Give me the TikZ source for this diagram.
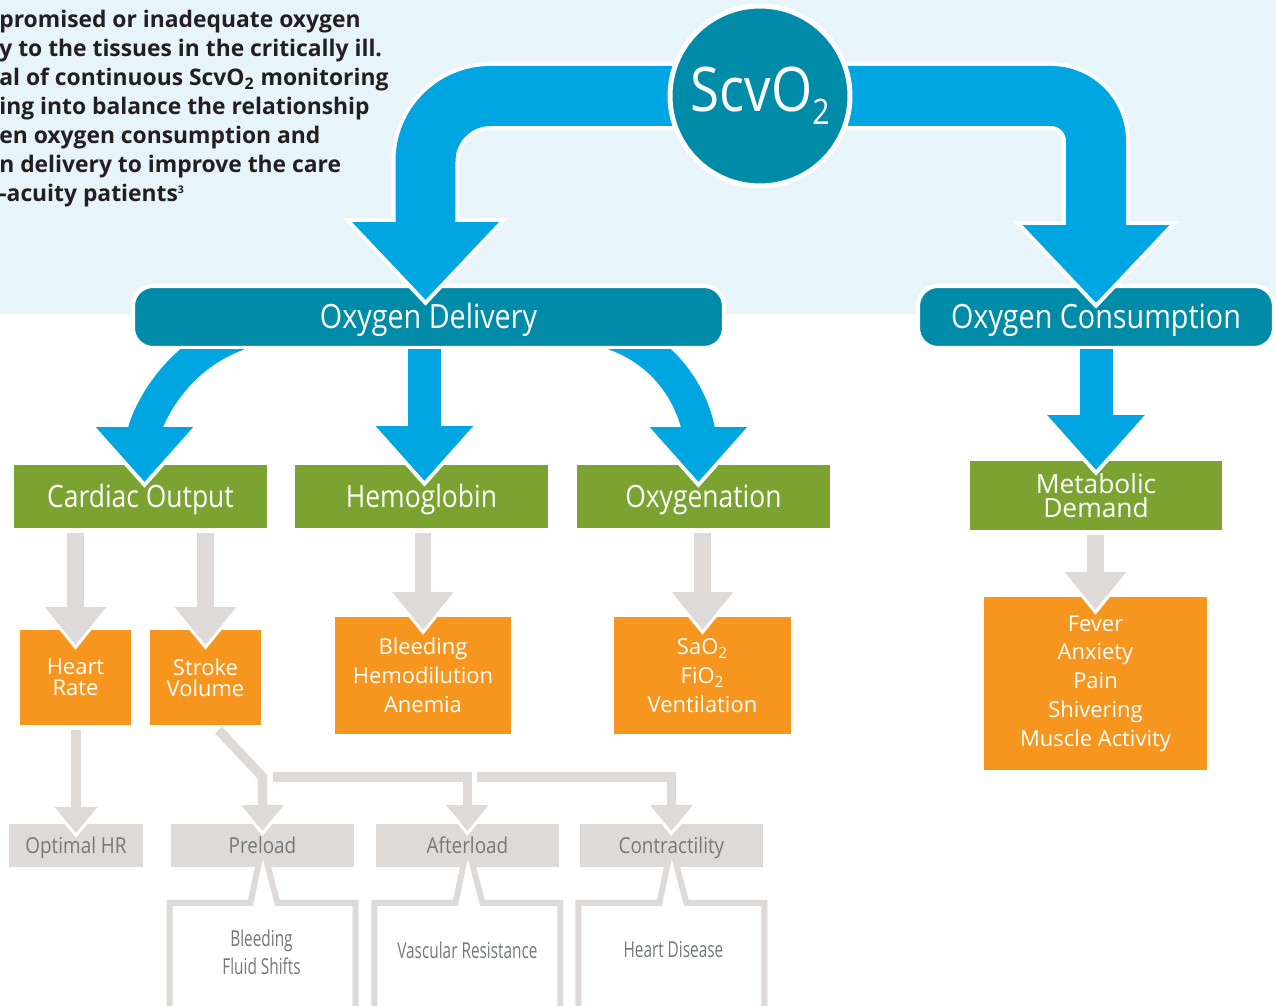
\documentclass[tikz,border=0pt]{standalone}
\usepackage{fontspec}
\setmainfont{Open Sans}
\newfontfamily\headfont[FakeStretch=0.86]{Open Sans}
\newfontfamily\narrowfont[FakeStretch=0.7]{Open Sans}
\usetikzlibrary{arrows.meta}
\usetikzlibrary{calc}
\usetikzlibrary{positioning}

\definecolor{skyBg}{HTML}{E7F4F9}
\definecolor{flowBlue}{HTML}{00A6E1}
\definecolor{tealBox}{HTML}{008CA8}
\definecolor{leafGreen}{HTML}{7BA331}
\definecolor{orangeBox}{HTML}{F7961F}
\definecolor{paleGray}{HTML}{DEDAD7}
\definecolor{labelGray}{HTML}{75787B}
\definecolor{inkText}{HTML}{231F20}

\tikzset{
    objTeal/.style={rectangle, rounded corners=0.4cm, fill=tealBox, draw=white, line width=0.08cm, outer sep=0pt, text=white, font=\headfont\fontsize{19}{20}\selectfont, text height=13.6pt, text depth=0pt, minimum height=1.24cm},
    objGreen/.style={rectangle, fill=leafGreen, text=white, outer sep=0pt, inner sep=0pt, font=\headfont\fontsize{17.5}{20}\selectfont, minimum width=5.06cm, minimum height=1.26cm},
    objGreenLine/.style={objGreen, text height=12.5pt, text depth=0pt},
    objOrange/.style={rectangle, fill=orangeBox, text=white, outer sep=0pt, inner sep=0pt, align=center, font=\fontsize{12.5}{16.4}\selectfont},
    objGray/.style={rectangle, fill=paleGray, text=labelGray, outer sep=0pt, inner sep=0pt, font=\headfont\fontsize{12.5}{14}\selectfont, text height=9pt, text depth=0pt, minimum width=3.66cm, minimum height=0.86cm},
    objNote/.style={text=labelGray, align=center, font=\narrowfont\fontsize{12.5}{16}\selectfont},
    noteLine/.style={draw=paleGray, line width=0.12cm},
    bigArrow/.style={draw=flowBlue, line width=1.2cm, shorten >=0.12cm, -{Triangle[width=2.84cm,length=1.56cm]},
        preaction={draw=white, line width=1.36cm, shorten >=0cm, -{Triangle[width=3.2cm,length=1.76cm]}}},
    subArrow/.style={draw=flowBlue, line width=0.66cm, shorten >=0.12cm, -{Triangle[width=1.88cm,length=1.1cm]},
        preaction={draw=white, line width=0.82cm, shorten >=0cm, -{Triangle[width=2.22cm,length=1.3cm]}}},
    grayArrow/.style={draw=paleGray, line width=0.33cm, shorten >=0.1cm, -{Triangle[width=1.18cm,length=0.76cm]},
        preaction={draw=white, line width=0.33cm, shorten >=0cm, -{Triangle[width=1.42cm,length=0.92cm]}}},
    thinArrow/.style={draw=paleGray, line width=0.19cm, line join=miter, shorten >=0.1cm, -{Triangle[width=0.82cm,length=0.52cm]},
        preaction={draw=white, line width=0.19cm, shorten >=0cm, -{Triangle[width=1.08cm,length=0.68cm]}}}
}

\begin{document}
\begin{tikzpicture}[x=0.02cm, y=-0.02cm]
  \useasboundingbox (0,0) rectangle (1276,1006);
  \fill[skyBg] (0,0) rectangle (1276,314);

  \node (intro) [anchor=north west, align=left, inner sep=0pt, text=inkText, font=\bfseries\fontsize{13}{16.5}\selectfont] at (-1,10) {promised or inadequate oxygen\\y to the tissues in the critically ill.\\al of continuous ScvO\textsubscript{2} monitoring\\ing into balance the relationship\\en oxygen consumption and\\n delivery to improve the care\\-acuity patients\textsuperscript{\fontsize{6}{6}\selectfont 3}};

  \coordinate (scvMid) at (760,96);

  \node (deliv) [objTeal, minimum width=11.82cm] at (428.5,317) {Oxygen Delivery};
  \node (consum) [objTeal, minimum width=7.12cm] at (1096,317) {Oxygen Consumption};

  \node (cardiac) [objGreenLine] at (140.5,496.5) {Cardiac Output};
  \node (hemo) [objGreenLine, right=0.56cm of cardiac] {Hemoglobin};
  \node (oxy) [objGreenLine, right=0.58cm of hemo] {Oxygenation};
  \node (metab) [objGreen, minimum width=5.04cm, minimum height=1.38cm, align=center, font=\fontsize{15}{13.5}\selectfont] at (1096,495.5) {Metabolic\\Demand};

  \node (heart) [objOrange, minimum width=2.22cm, minimum height=1.9cm, font=\fontsize{12.5}{12}\selectfont] at (75.5,677.5) {Heart\\Rate};
  \node (stroke) [objOrange, minimum width=2.22cm, minimum height=1.9cm, font=\fontsize{12.5}{12}\selectfont, right=0.38cm of heart] {Stroke\\Volume};
  \node (bleed) [objOrange, minimum width=3.52cm, minimum height=2.34cm] at (423,675.5) {Bleeding\\Hemodilution\\Anemia};
  \node (sao) [objOrange, minimum width=3.54cm, minimum height=2.34cm] at (702.5,675.5) {SaO\textsubscript{2}\\FiO\textsubscript{2}\\Ventilation};
  \node (fever) [objOrange, minimum width=4.46cm, minimum height=3.46cm] at (1095.5,683.5) {Fever\\Anxiety\\Pain\\Shivering\\Muscle Activity};

  \node (optimal) [objGray, minimum width=2.68cm] at (76,845.5) {Optimal HR};
  \node (preload) [objGray] at (262.5,845.5) {Preload};
  \node (after) [objGray, right=0.44cm of preload] {Afterload};
  \node (contr) [objGray, right=0.42cm of after] {Contractility};

  % big arrows out of the circle
  \draw[bigArrow, rounded corners=1.3cm] (scvMid) -| ($(deliv.north)+(-3,20)$);
  \draw[bigArrow, rounded corners=0.9cm] (scvMid) -| ($(consum.north)+(0,23)$);

  % arrows under the teal boxes
  \begin{scope}
    \clip (0,350) rectangle (1276,1006);
    \draw[subArrow] ($(deliv.south)+(-190,-14)$) .. controls +(-72,26) and +(0,-60) .. ($(cardiac.north)+(4,23)$);
    \draw[subArrow] ($(deliv.south -| hemo.north)+(3,0)$) -- ($(hemo.north)+(3,22)$);
    \draw[subArrow] ($(deliv.south)+(186,-14)$) .. controls +(72,26) and +(0,-60) .. ($(oxy.north)+(-5,23)$);
    \draw[subArrow] (consum.south) -- ($(metab.north)+(0,15)$);
  \end{scope}

  \draw[grayArrow] ($(cardiac.south -| heart.north)+(0,5)$) -- ($(heart.north)+(0,20)$);
  \draw[grayArrow] ($(cardiac.south -| stroke.north)+(0,5)$) -- ($(stroke.north)+(0,20)$);
  \draw[grayArrow] ($(hemo.south -| bleed.north)+(0,5)$) -- ($(bleed.north)+(0,18)$);
  \draw[grayArrow] ($(oxy.south -| sao.north)+(0,5)$) -- ($(sao.north)+(0,18)$);
  \draw[grayArrow] ($(metab.south -| fever.north)+(0,5)$) -- ($(fever.north)+(0,18)$);

  \coordinate (svTurn) at ($(preload.north)+(0,-47)$);
  \draw[thinArrow] ($(heart.south -| optimal.north)+(0,5)$) -- ($(optimal.north)+(0,14)$);
  \draw[thinArrow] ($(stroke.south)+(13,5)$) -- (svTurn) -- ($(preload.north)+(0,12)$);
  \draw[thinArrow] ($(svTurn)+(10,0)$) -| ($(after.north)+(0,12)$);
  \draw[thinArrow] ($(svTurn -| after.north)+(10,0)$) -| ($(contr.north)+(0,12)$);

  % callouts under the gray boxes
  \begin{scope}
    \clip (0,855) rectangle (1276,1010);
    \foreach \g in {preload, after, contr}
      \filldraw[noteLine, fill=white] ($(\g.south)+(-93,36)$) -- ($(\g.south)+(-12,36)$) -- (\g.center) -- ($(\g.south)+(15,36)$) -- ($(\g.south)+(93,36)$) -- ($(\g.south)+(93,160)$) -- ($(\g.south)+(-93,160)$) -- cycle;
  \end{scope}
  \node (preNote) [objNote] at ($(preload.south)+(-1,85)$) {Bleeding\\Fluid Shifts};
  \node (afterNote) [objNote] at ($(after.south)+(0,83)$) {Vascular Resistance};
  \node (contrNote) [objNote] at ($(contr.south)+(2,83)$) {Heart Disease};

  \node (scv) [circle, fill=tealBox, draw=white, line width=0.1cm, minimum size=3.6cm, inner sep=0pt, text=white, font=\headfont\fontsize{35}{35}\selectfont] at (scvMid) {ScvO\raisebox{-7.5pt}{\fontsize{20}{20}\selectfont 2}};
\end{tikzpicture}
\end{document}
